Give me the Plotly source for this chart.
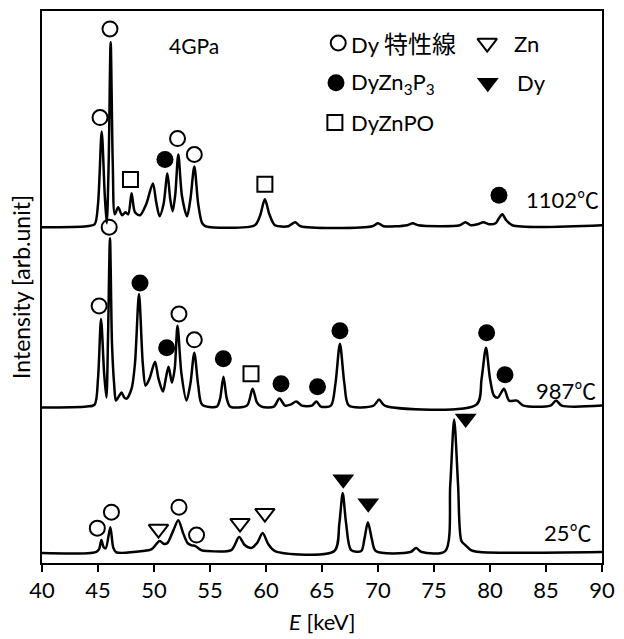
import plotly.graph_objects as go

# ---------------- data (E in keV, intensity in arbitrary units) ----------------
E_1102 = [40, 44.0, 44.7, 45.0, 45.33, 45.6, 45.78, 45.95, 46.13, 46.32, 46.5, 46.8, 47.15, 47.45, 47.7,
          48.0, 48.3, 48.75, 49.3, 49.9, 50.2, 50.5, 50.85, 51.2, 51.45, 51.67, 51.9, 52.17, 52.5,
          52.95, 53.25, 53.6, 53.95, 54.3, 54.6, 59.0, 59.45, 59.9, 60.3, 60.8, 62.0, 62.6, 63.1,
          69.5, 70.0, 70.5, 72.6, 73.1, 73.6, 77.3, 77.8, 78.3, 78.9, 79.4, 79.9, 80.5, 80.8, 81.1,
          81.45, 82.0, 90]
I_1102 = [337, 338, 340, 360, 433, 370, 341, 400, 523, 400, 350, 357, 349, 352, 350,
          371, 352, 349, 360, 381, 362, 348, 360, 391, 365, 353, 370, 410, 368,
          348, 365, 398, 360, 341, 338, 339, 348, 365, 350, 339, 338, 342, 338,
          338, 341, 338, 339, 341, 339, 339, 342, 339, 340, 342, 340, 341, 346, 350,
          344, 339, 339]

E_987 = [40, 44.0, 44.7, 45.0, 45.27, 45.55, 45.75, 45.9, 46.07, 46.25, 46.45, 46.6, 46.9, 47.1, 47.35,
         47.56, 48.0, 48.3, 48.66, 49.0, 49.25, 49.6, 50.09, 50.4, 50.8, 51.05, 51.3, 51.6, 51.85,
         52.1, 52.45, 52.9, 53.25, 53.6, 53.95, 54.3, 55.6, 55.9, 56.2, 56.5, 56.8, 58.3, 58.8,
         59.2, 59.6, 60.7, 61.2, 61.7, 62.2, 62.7, 63.2, 64.1, 64.5, 64.9, 65.8, 66.2, 66.6, 67.0,
         67.4, 69.6, 70.1, 70.6, 78.8, 79.25, 79.64, 80.0, 80.35, 80.7, 81.25, 81.7, 82.4, 83.0,
         85.4, 85.9, 86.4, 90]
I_987 = [156, 157, 159, 185, 245, 190, 166, 230, 326, 220, 178, 163, 168, 171, 166,
         165, 175, 200, 270, 200, 178, 185, 202, 185, 172, 185, 197, 181, 195,
         238, 190, 163, 180, 211, 178, 159, 157, 165, 187, 165, 157, 158, 175,
         161, 157, 157, 165, 158, 159, 162, 158, 158, 162, 157, 158, 180, 220, 180,
         158, 158, 164, 158, 159, 185, 216, 185, 168, 166, 175, 163, 163, 158,
         158, 163, 158, 158]

E_25 = [40, 44.8, 45.1, 45.3, 45.5, 45.7, 46.1, 46.35, 46.6, 49.0, 49.8, 50.5, 50.9, 51.2, 51.7,
        52.17, 52.6, 53.0, 53.3, 53.7, 54.2, 54.7, 56.9, 57.6, 58.1, 58.7, 59.2, 59.7, 60.2, 60.8,
        66.1, 66.55, 66.85, 67.15, 67.6, 68.5, 68.8, 69.1, 69.45, 69.8, 72.9, 73.4, 73.9,
        76.0, 76.45, 76.8, 77.15, 77.45, 77.8, 78.3, 79.1, 90]
I_25 = [10, 11, 14, 23, 16, 15, 36, 16, 11, 12, 14, 22, 19, 20, 32,
        43, 30, 20, 18, 17, 13, 12, 13, 26, 18, 15, 20, 30, 19, 12,
        12, 40, 70, 40, 13, 12, 25, 41, 24, 12, 11, 15, 11,
        12, 78, 144, 78, 22, 18, 13, 11, 11]

# peak markers (E, intensity)
dyline_E = [46.07, 45.18, 52.10, 53.60, 46.00, 45.10, 52.23, 53.60, 44.94, 46.20, 52.23, 53.80]
dyline_I = [536, 447, 426, 410, 337, 258, 250, 224, 35, 51, 56, 28]
dyzn3p3_E = [50.98, 80.80, 48.75, 51.13, 56.19, 61.34, 64.60, 66.60, 79.70, 81.34]
dyzn3p3_I = [405, 369, 281, 216, 205, 180, 177, 233, 231, 189]
dyznpo_E = [47.90, 59.90, 58.66]
dyznpo_I = [385, 380, 190]
zn_E = [50.40, 57.68, 59.90]
zn_I = [34, 40, 50]
dy_E = [66.90, 69.13, 77.83]
dy_I = [84, 60, 145]

x_ticks = [40, 45, 50, 55, 60, 65, 70, 75, 80, 85, 90]
legend_names = ["Dy <span style='font-size:24px'>特性線</span>", "DyZn<sub>3</sub>P<sub>3</sub>", "DyZnPO", "Zn", "Dy"]
curve_labels = ["1102℃", "987℃", "25℃"]

# ---------------- figure ----------------
FONT = "Lato, 'Noto Sans CJK JP', sans-serif"
fig = go.Figure()

for E, I in [(E_1102, I_1102), (E_987, I_987), (E_25, I_25)]:
    fig.add_trace(go.Scatter(x=E, y=I, mode="lines", line=dict(color="black", width=2.5, shape="spline", smoothing=0.8),
                             showlegend=False, hoverinfo="skip"))

styles = [
    dict(symbol="circle-open", size=15, color="black", line=dict(width=2, color="black")),
    dict(symbol="circle", size=17, color="black", line=dict(width=0)),
    dict(symbol="square-open", size=15, color="black", line=dict(width=2, color="black")),
    dict(symbol="triangle-down-open", size=17, color="black", line=dict(width=2, color="black")),
    dict(symbol="triangle-down", size=19, color="black", line=dict(width=0)),
]
marker_sets = [(dyline_E, dyline_I), (dyzn3p3_E, dyzn3p3_I), (dyznpo_E, dyznpo_I), (zn_E, zn_I), (dy_E, dy_I)]
for (E, I), st in zip(marker_sets, styles):
    fig.add_trace(go.Scatter(x=E, y=I, mode="markers", marker=st, showlegend=False, hoverinfo="skip"))

# legend on overlay axes (plot-fraction coordinates)
leg_sym_pos = [(0.529, 0.942), (0.525, 0.870), (0.523, 0.798), (0.795, 0.942), (0.796, 0.870)]
leg_txt_pos = [(0.548, 0.942), (0.548, 0.870), (0.548, 0.798), (0.840, 0.942), (0.845, 0.870)]
for (lx, ly), st in zip(leg_sym_pos, styles):
    fig.add_trace(go.Scatter(x=[lx], y=[ly], mode="markers", marker=st, xaxis="x2", yaxis="y2",
                             showlegend=False, hoverinfo="skip"))
for (tx, ty), name in zip(leg_txt_pos, legend_names):
    fig.add_annotation(x=tx, y=ty, xref="x2", yref="y2", text=name, showarrow=False,
                       xanchor="left", yanchor="middle", font=dict(size=22, color="black", family=FONT))

fig.add_annotation(x=0.271, y=0.937, xref="x2", yref="y2", text="4GPa", showarrow=False,
                   xanchor="center", yanchor="middle", font=dict(size=21, color="black", family=FONT))
for lbl, ly, rx in zip(curve_labels, [0.659, 0.313, 0.056], [0.998, 0.993, 0.986]):
    fig.add_annotation(x=rx, y=ly, xref="x2", yref="y2", text=lbl, showarrow=False,
                       xanchor="right", yanchor="middle", font=dict(size=22, color="black", family=FONT))

fig.add_annotation(x=-0.0375, y=0.5, xref="paper", yref="paper", text="Intensity [arb.unit]", textangle=-90,
                   showarrow=False, xanchor="center", yanchor="middle", font=dict(size=23, color="black", family=FONT))
fig.add_annotation(x=0.5, y=-0.1065, xref="paper", yref="paper", text="<i>E</i> [keV]",
                   showarrow=False, xanchor="center", yanchor="middle", font=dict(size=22, color="black", family=FONT))

# page body has an 8px default margin: figure is offset by 8px inside the window
fig.update_layout(
    width=616, height=631,
    margin=dict(l=34, r=22, t=1, b=76),
    paper_bgcolor="white", plot_bgcolor="white",
    font=dict(family=FONT, size=22, color="black"),
    xaxis=dict(range=[40, 90], tickvals=x_ticks, ticktext=[str(t) for t in x_ticks],
               ticks="outside", ticklen=7, tickwidth=1.5, tickcolor="black",
               showline=True, linecolor="black", linewidth=1.5, mirror=True,
               showgrid=False, zeroline=False, tickfont=dict(size=22, family=FONT)),
    yaxis=dict(range=[0, 554], showticklabels=False, ticks="", showline=True, linecolor="black",
               linewidth=1.5, mirror=True, showgrid=False, zeroline=False),
    xaxis2=dict(range=[0, 1], overlaying="x", visible=False),
    yaxis2=dict(range=[0, 1], overlaying="y", visible=False),
    showlegend=False,
)

fig.write_html("out.html")
